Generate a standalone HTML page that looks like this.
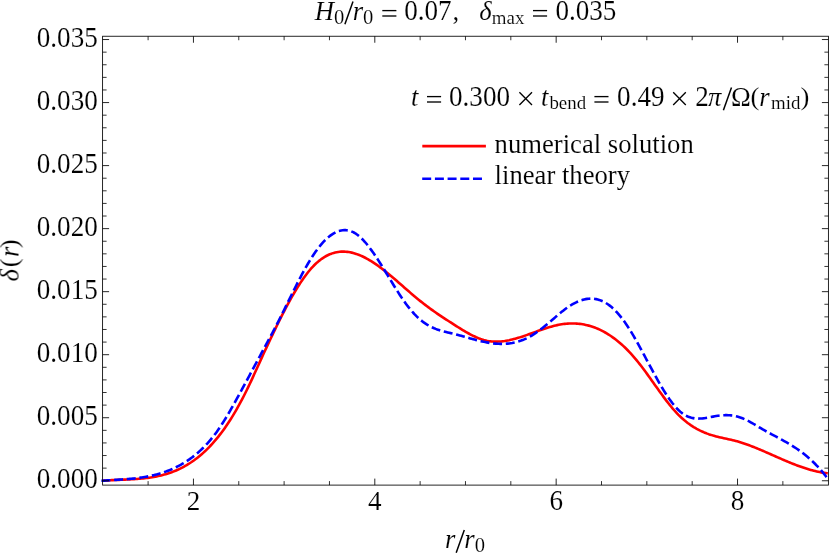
<!DOCTYPE html>
<html>
<head>
<meta charset="utf-8">
<title>plot</title>
<style>
html,body{margin:0;padding:0;background:#fff;}
body{width:830px;height:553px;overflow:hidden;}
svg{display:block;}
text{font-family:"Liberation Serif",serif;font-size:26.67px;fill:#000;stroke:#fff;stroke-width:0.12;}
.i{font-style:italic;}
.s{font-size:18.9px;}
.fr{stroke:#000;stroke-width:0.85;fill:none;}
.op{stroke:#000;stroke-width:1.35;fill:none;}
.tM{stroke:#000;stroke-width:0.85;}
.tm{stroke:#000;stroke-width:0.8;}
.red{stroke:#ff0000;stroke-width:2.6;fill:none;stroke-linejoin:round;}
.blue{stroke:#0000ff;stroke-width:2.6;fill:none;stroke-linejoin:round;stroke-linecap:square;stroke-dasharray:6.39 6.305;}
</style>
</head>
<body>
<svg width="830" height="553" viewBox="0 0 830 553">
<rect x="0" y="0" width="830" height="553" fill="#fff"/>
<!-- curves -->
<path class="red" d="M102.70,480.76 L104.20,480.64 L105.70,480.53 L107.20,480.43 L108.70,480.33 L110.20,480.25 L111.70,480.16 L113.20,480.09 L114.70,480.02 L116.20,479.95 L117.70,479.89 L119.20,479.83 L120.70,479.77 L122.20,479.70 L123.70,479.64 L125.20,479.58 L126.70,479.52 L128.20,479.45 L129.70,479.38 L131.20,479.30 L132.70,479.22 L134.20,479.13 L135.70,479.03 L137.20,478.93 L138.70,478.81 L140.20,478.69 L141.70,478.55 L143.20,478.41 L144.70,478.25 L146.20,478.07 L147.70,477.89 L149.20,477.68 L150.70,477.47 L152.20,477.23 L153.70,476.98 L155.20,476.70 L156.70,476.41 L158.20,476.10 L159.70,475.76 L161.20,475.41 L162.70,475.03 L164.20,474.62 L165.70,474.20 L167.20,473.74 L168.70,473.26 L170.20,472.75 L171.70,472.22 L173.20,471.65 L174.70,471.06 L176.20,470.43 L177.70,469.77 L179.20,469.08 L180.70,468.36 L182.20,467.60 L183.70,466.80 L185.20,465.97 L186.70,465.11 L188.20,464.20 L189.70,463.26 L191.20,462.28 L192.70,461.25 L194.20,460.19 L195.70,459.08 L197.20,457.93 L198.70,456.74 L200.20,455.50 L201.70,454.21 L203.20,452.88 L204.70,451.51 L206.20,450.08 L207.70,448.60 L209.20,447.08 L210.70,445.50 L212.20,443.87 L213.70,442.19 L215.20,440.46 L216.70,438.67 L218.20,436.83 L219.70,434.93 L221.20,432.97 L222.70,430.96 L224.20,428.89 L225.70,426.75 L227.20,424.56 L228.70,422.31 L230.20,419.99 L231.70,417.61 L233.20,415.17 L234.70,412.66 L236.20,410.09 L237.70,407.45 L239.20,404.74 L240.70,401.97 L242.20,399.13 L243.70,396.23 L245.20,393.26 L246.70,390.24 L248.20,387.15 L249.70,384.02 L251.20,380.83 L252.70,377.59 L254.20,374.33 L255.70,371.04 L257.20,367.74 L258.70,364.43 L260.20,361.13 L261.70,357.85 L263.20,354.58 L264.70,351.32 L266.20,348.09 L267.70,344.87 L269.20,341.67 L270.70,338.49 L272.20,335.33 L273.70,332.19 L275.20,329.08 L276.70,326.00 L278.20,322.94 L279.70,319.92 L281.20,316.93 L282.70,313.97 L284.20,311.06 L285.70,308.19 L287.20,305.36 L288.70,302.58 L290.20,299.86 L291.70,297.18 L293.20,294.56 L294.70,292.00 L296.20,289.50 L297.70,287.07 L299.20,284.70 L300.70,282.40 L302.20,280.17 L303.70,278.01 L305.20,275.94 L306.70,273.94 L308.20,272.03 L309.70,270.20 L311.20,268.45 L312.70,266.80 L314.20,265.24 L315.70,263.78 L317.20,262.40 L318.70,261.12 L320.20,259.93 L321.70,258.82 L323.20,257.80 L324.70,256.86 L326.20,256.00 L327.70,255.23 L329.20,254.53 L330.70,253.92 L332.20,253.38 L333.70,252.91 L335.20,252.52 L336.70,252.20 L338.20,251.95 L339.70,251.77 L341.20,251.65 L342.70,251.61 L344.20,251.62 L345.70,251.70 L347.20,251.84 L348.70,252.04 L350.20,252.30 L351.70,252.62 L353.20,252.99 L354.70,253.41 L356.20,253.89 L357.70,254.41 L359.20,254.99 L360.70,255.61 L362.20,256.28 L363.70,257.00 L365.20,257.75 L366.70,258.55 L368.20,259.39 L369.70,260.27 L371.20,261.18 L372.70,262.13 L374.20,263.11 L375.70,264.12 L377.20,265.17 L378.70,266.24 L380.20,267.35 L381.70,268.48 L383.20,269.63 L384.70,270.81 L386.20,272.00 L387.70,273.22 L389.20,274.46 L390.70,275.71 L392.20,276.98 L393.70,278.26 L395.20,279.55 L396.70,280.85 L398.20,282.16 L399.70,283.47 L401.20,284.78 L402.70,286.10 L404.20,287.41 L405.70,288.73 L407.20,290.03 L408.70,291.34 L410.20,292.63 L411.70,293.91 L413.20,295.19 L414.70,296.45 L416.20,297.70 L417.70,298.94 L419.20,300.17 L420.70,301.37 L422.20,302.57 L423.70,303.74 L425.20,304.90 L426.70,306.04 L428.20,307.16 L429.70,308.26 L431.20,309.35 L432.70,310.42 L434.20,311.48 L435.70,312.53 L437.20,313.56 L438.70,314.58 L440.20,315.60 L441.70,316.60 L443.20,317.59 L444.70,318.58 L446.20,319.56 L447.70,320.53 L449.20,321.50 L450.70,322.46 L452.20,323.42 L453.70,324.38 L455.20,325.34 L456.70,326.29 L458.20,327.24 L459.70,328.18 L461.20,329.11 L462.70,330.03 L464.20,330.92 L465.70,331.81 L467.20,332.66 L468.70,333.50 L470.20,334.31 L471.70,335.09 L473.20,335.83 L474.70,336.54 L476.20,337.22 L477.70,337.85 L479.20,338.45 L480.70,338.99 L482.20,339.49 L483.70,339.94 L485.20,340.33 L486.70,340.67 L488.20,340.96 L489.70,341.19 L491.20,341.37 L492.70,341.50 L494.20,341.58 L495.70,341.62 L497.20,341.61 L498.70,341.56 L500.20,341.47 L501.70,341.34 L503.20,341.17 L504.70,340.97 L506.20,340.73 L507.70,340.46 L509.20,340.17 L510.70,339.84 L512.20,339.49 L513.70,339.11 L515.20,338.70 L516.70,338.28 L518.20,337.84 L519.70,337.38 L521.20,336.90 L522.70,336.41 L524.20,335.90 L525.70,335.39 L527.20,334.86 L528.70,334.33 L530.20,333.79 L531.70,333.25 L533.20,332.71 L534.70,332.16 L536.20,331.62 L537.70,331.08 L539.20,330.54 L540.70,330.02 L542.20,329.49 L543.70,328.98 L545.20,328.49 L546.70,328.00 L548.20,327.53 L549.70,327.08 L551.20,326.65 L552.70,326.23 L554.20,325.84 L555.70,325.48 L557.20,325.13 L558.70,324.82 L560.20,324.54 L561.70,324.29 L563.20,324.06 L564.70,323.88 L566.20,323.72 L567.70,323.60 L569.20,323.52 L570.70,323.46 L572.20,323.45 L573.70,323.46 L575.20,323.51 L576.70,323.60 L578.20,323.73 L579.70,323.89 L581.20,324.08 L582.70,324.32 L584.20,324.59 L585.70,324.90 L587.20,325.24 L588.70,325.63 L590.20,326.05 L591.70,326.52 L593.20,327.02 L594.70,327.56 L596.20,328.15 L597.70,328.77 L599.20,329.43 L600.70,330.14 L602.20,330.89 L603.70,331.68 L605.20,332.51 L606.70,333.38 L608.20,334.30 L609.70,335.26 L611.20,336.26 L612.70,337.31 L614.20,338.40 L615.70,339.54 L617.20,340.72 L618.70,341.95 L620.20,343.23 L621.70,344.55 L623.20,345.91 L624.70,347.32 L626.20,348.78 L627.70,350.29 L629.20,351.85 L630.70,353.45 L632.20,355.10 L633.70,356.81 L635.20,358.56 L636.70,360.36 L638.20,362.21 L639.70,364.10 L641.20,366.04 L642.70,368.02 L644.20,370.03 L645.70,372.07 L647.20,374.13 L648.70,376.21 L650.20,378.31 L651.70,380.42 L653.20,382.53 L654.70,384.65 L656.20,386.76 L657.70,388.87 L659.20,390.97 L660.70,393.04 L662.20,395.10 L663.70,397.13 L665.20,399.14 L666.70,401.11 L668.20,403.03 L669.70,404.92 L671.20,406.76 L672.70,408.55 L674.20,410.27 L675.70,411.94 L677.20,413.54 L678.70,415.08 L680.20,416.55 L681.70,417.95 L683.20,419.29 L684.70,420.57 L686.20,421.79 L687.70,422.95 L689.20,424.05 L690.70,425.11 L692.20,426.10 L693.70,427.05 L695.20,427.95 L696.70,428.81 L698.20,429.61 L699.70,430.38 L701.20,431.10 L702.70,431.78 L704.20,432.43 L705.70,433.03 L707.20,433.61 L708.70,434.15 L710.20,434.65 L711.70,435.13 L713.20,435.59 L714.70,436.01 L716.20,436.41 L717.70,436.80 L719.20,437.16 L720.70,437.51 L722.20,437.85 L723.70,438.18 L725.20,438.50 L726.70,438.83 L728.20,439.16 L729.70,439.49 L731.20,439.83 L732.70,440.18 L734.20,440.55 L735.70,440.93 L737.20,441.34 L738.70,441.77 L740.20,442.21 L741.70,442.68 L743.20,443.17 L744.70,443.68 L746.20,444.20 L747.70,444.74 L749.20,445.29 L750.70,445.86 L752.20,446.44 L753.70,447.03 L755.20,447.64 L756.70,448.25 L758.20,448.87 L759.70,449.50 L761.20,450.14 L762.70,450.78 L764.20,451.43 L765.70,452.08 L767.20,452.74 L768.70,453.39 L770.20,454.05 L771.70,454.72 L773.20,455.38 L774.70,456.04 L776.20,456.70 L777.70,457.36 L779.20,458.01 L780.70,458.67 L782.20,459.32 L783.70,459.96 L785.20,460.60 L786.70,461.23 L788.20,461.86 L789.70,462.48 L791.20,463.09 L792.70,463.69 L794.20,464.28 L795.70,464.86 L797.20,465.42 L798.70,465.98 L800.20,466.52 L801.70,467.05 L803.20,467.57 L804.70,468.07 L806.20,468.55 L807.70,469.02 L809.20,469.47 L810.70,469.90 L812.20,470.32 L813.70,470.71 L815.20,471.09 L816.70,471.44 L818.20,471.77 L819.70,472.08 L821.20,472.36 L822.70,472.62 L824.20,472.86 L825.70,473.07 L827.20,473.25 L827.80,473.32"/>
<path class="blue" d="M102.70,480.68 L104.20,480.58 L105.70,480.48 L107.20,480.39 L108.70,480.29 L110.20,480.20 L111.70,480.12 L113.20,480.03 L114.70,479.94 L116.20,479.85 L117.70,479.76 L119.20,479.67 L120.70,479.57 L122.20,479.47 L123.70,479.37 L125.20,479.26 L126.70,479.14 L128.20,479.02 L129.70,478.89 L131.20,478.75 L132.70,478.61 L134.20,478.45 L135.70,478.29 L137.20,478.11 L138.70,477.92 L140.20,477.72 L141.70,477.50 L143.20,477.27 L144.70,477.03 L146.20,476.77 L147.70,476.49 L149.20,476.20 L150.70,475.88 L152.20,475.55 L153.70,475.21 L155.20,474.84 L156.70,474.45 L158.20,474.04 L159.70,473.60 L161.20,473.14 L162.70,472.66 L164.20,472.16 L165.70,471.63 L167.20,471.07 L168.70,470.49 L170.20,469.88 L171.70,469.24 L173.20,468.58 L174.70,467.88 L176.20,467.15 L177.70,466.39 L179.20,465.60 L180.70,464.78 L182.20,463.92 L183.70,463.03 L185.20,462.11 L186.70,461.15 L188.20,460.15 L189.70,459.12 L191.20,458.04 L192.70,456.92 L194.20,455.76 L195.70,454.56 L197.20,453.31 L198.70,452.00 L200.20,450.65 L201.70,449.25 L203.20,447.79 L204.70,446.27 L206.20,444.70 L207.70,443.07 L209.20,441.37 L210.70,439.61 L212.20,437.79 L213.70,435.90 L215.20,433.94 L216.70,431.91 L218.20,429.81 L219.70,427.64 L221.20,425.39 L222.70,423.07 L224.20,420.68 L225.70,418.24 L227.20,415.74 L228.70,413.20 L230.20,410.61 L231.70,407.98 L233.20,405.32 L234.70,402.63 L236.20,399.91 L237.70,397.18 L239.20,394.44 L240.70,391.68 L242.20,388.92 L243.70,386.15 L245.20,383.38 L246.70,380.60 L248.20,377.82 L249.70,375.03 L251.20,372.24 L252.70,369.45 L254.20,366.66 L255.70,363.87 L257.20,361.08 L258.70,358.30 L260.20,355.52 L261.70,352.74 L263.20,349.96 L264.70,347.19 L266.20,344.42 L267.70,341.65 L269.20,338.86 L270.70,336.07 L272.20,333.25 L273.70,330.42 L275.20,327.55 L276.70,324.66 L278.20,321.73 L279.70,318.77 L281.20,315.78 L282.70,312.76 L284.20,309.73 L285.70,306.69 L287.20,303.64 L288.70,300.59 L290.20,297.54 L291.70,294.50 L293.20,291.48 L294.70,288.48 L296.20,285.50 L297.70,282.55 L299.20,279.64 L300.70,276.78 L302.20,273.96 L303.70,271.19 L305.20,268.48 L306.70,265.84 L308.20,263.26 L309.70,260.76 L311.20,258.33 L312.70,255.99 L314.20,253.75 L315.70,251.59 L317.20,249.52 L318.70,247.55 L320.20,245.67 L321.70,243.89 L323.20,242.22 L324.70,240.64 L326.20,239.16 L327.70,237.79 L329.20,236.53 L330.70,235.37 L332.20,234.33 L333.70,233.39 L335.20,232.57 L336.70,231.86 L338.20,231.27 L339.70,230.80 L341.20,230.45 L342.70,230.22 L344.20,230.12 L345.70,230.14 L347.20,230.29 L348.70,230.57 L350.20,230.97 L351.70,231.51 L353.20,232.19 L354.70,233.00 L356.20,233.95 L357.70,235.03 L359.20,236.25 L360.70,237.58 L362.20,239.04 L363.70,240.60 L365.20,242.27 L366.70,244.03 L368.20,245.89 L369.70,247.83 L371.20,249.85 L372.70,251.94 L374.20,254.09 L375.70,256.31 L377.20,258.58 L378.70,260.90 L380.20,263.25 L381.70,265.64 L383.20,268.06 L384.70,270.50 L386.20,272.96 L387.70,275.42 L389.20,277.88 L390.70,280.34 L392.20,282.79 L393.70,285.23 L395.20,287.64 L396.70,290.02 L398.20,292.37 L399.70,294.68 L401.20,296.94 L402.70,299.16 L404.20,301.31 L405.70,303.41 L407.20,305.43 L408.70,307.39 L410.20,309.26 L411.70,311.05 L413.20,312.75 L414.70,314.37 L416.20,315.90 L417.70,317.35 L419.20,318.72 L420.70,320.01 L422.20,321.22 L423.70,322.35 L425.20,323.41 L426.70,324.39 L428.20,325.29 L429.70,326.13 L431.20,326.90 L432.70,327.61 L434.20,328.26 L435.70,328.86 L437.20,329.42 L438.70,329.93 L440.20,330.41 L441.70,330.86 L443.20,331.27 L444.70,331.67 L446.20,332.05 L447.70,332.42 L449.20,332.78 L450.70,333.13 L452.20,333.49 L453.70,333.85 L455.20,334.23 L456.70,334.62 L458.20,335.02 L459.70,335.42 L461.20,335.84 L462.70,336.26 L464.20,336.68 L465.70,337.10 L467.20,337.53 L468.70,337.96 L470.20,338.38 L471.70,338.80 L473.20,339.21 L474.70,339.61 L476.20,340.01 L477.70,340.40 L479.20,340.77 L480.70,341.13 L482.20,341.47 L483.70,341.80 L485.20,342.10 L486.70,342.39 L488.20,342.66 L489.70,342.90 L491.20,343.12 L492.70,343.31 L494.20,343.47 L495.70,343.61 L497.20,343.72 L498.70,343.80 L500.20,343.85 L501.70,343.87 L503.20,343.85 L504.70,343.80 L506.20,343.71 L507.70,343.58 L509.20,343.42 L510.70,343.21 L512.20,342.97 L513.70,342.68 L515.20,342.35 L516.70,341.98 L518.20,341.56 L519.70,341.10 L521.20,340.58 L522.70,340.02 L524.20,339.41 L525.70,338.74 L527.20,338.02 L528.70,337.25 L530.20,336.43 L531.70,335.55 L533.20,334.62 L534.70,333.65 L536.20,332.63 L537.70,331.58 L539.20,330.48 L540.70,329.35 L542.20,328.19 L543.70,327.01 L545.20,325.79 L546.70,324.56 L548.20,323.30 L549.70,322.03 L551.20,320.75 L552.70,319.45 L554.20,318.16 L555.70,316.86 L557.20,315.58 L558.70,314.31 L560.20,313.06 L561.70,311.84 L563.20,310.65 L564.70,309.50 L566.20,308.39 L567.70,307.33 L569.20,306.32 L570.70,305.37 L572.20,304.46 L573.70,303.62 L575.20,302.83 L576.70,302.10 L578.20,301.44 L579.70,300.84 L581.20,300.31 L582.70,299.85 L584.20,299.45 L585.70,299.13 L587.20,298.89 L588.70,298.72 L590.20,298.64 L591.70,298.63 L593.20,298.71 L594.70,298.87 L596.20,299.12 L597.70,299.46 L599.20,299.89 L600.70,300.42 L602.20,301.04 L603.70,301.75 L605.20,302.57 L606.70,303.49 L608.20,304.51 L609.70,305.62 L611.20,306.83 L612.70,308.14 L614.20,309.54 L615.70,311.05 L617.20,312.64 L618.70,314.33 L620.20,316.12 L621.70,318.00 L623.20,319.98 L624.70,322.05 L626.20,324.21 L627.70,326.46 L629.20,328.79 L630.70,331.20 L632.20,333.67 L633.70,336.21 L635.20,338.81 L636.70,341.45 L638.20,344.14 L639.70,346.86 L641.20,349.62 L642.70,352.40 L644.20,355.19 L645.70,358.00 L647.20,360.81 L648.70,363.63 L650.20,366.43 L651.70,369.22 L653.20,372.00 L654.70,374.74 L656.20,377.46 L657.70,380.14 L659.20,382.77 L660.70,385.36 L662.20,387.89 L663.70,390.36 L665.20,392.75 L666.70,395.08 L668.20,397.32 L669.70,399.48 L671.20,401.54 L672.70,403.51 L674.20,405.37 L675.70,407.12 L677.20,408.75 L678.70,410.25 L680.20,411.63 L681.70,412.87 L683.20,413.98 L684.70,414.94 L686.20,415.77 L687.70,416.48 L689.20,417.07 L690.70,417.55 L692.20,417.93 L693.70,418.22 L695.20,418.41 L696.70,418.53 L698.20,418.58 L699.70,418.56 L701.20,418.48 L702.70,418.35 L704.20,418.17 L705.70,417.96 L707.20,417.72 L708.70,417.46 L710.20,417.19 L711.70,416.90 L713.20,416.62 L714.70,416.34 L716.20,416.08 L717.70,415.83 L719.20,415.62 L720.70,415.45 L722.20,415.31 L723.70,415.22 L725.20,415.17 L726.70,415.16 L728.20,415.21 L729.70,415.30 L731.20,415.44 L732.70,415.63 L734.20,415.88 L735.70,416.18 L737.20,416.54 L738.70,416.96 L740.20,417.43 L741.70,417.97 L743.20,418.57 L744.70,419.22 L746.20,419.92 L747.70,420.67 L749.20,421.46 L750.70,422.28 L752.20,423.13 L753.70,424.00 L755.20,424.88 L756.70,425.77 L758.20,426.67 L759.70,427.56 L761.20,428.44 L762.70,429.31 L764.20,430.17 L765.70,431.01 L767.20,431.84 L768.70,432.66 L770.20,433.47 L771.70,434.28 L773.20,435.09 L774.70,435.89 L776.20,436.69 L777.70,437.49 L779.20,438.30 L780.70,439.12 L782.20,439.94 L783.70,440.77 L785.20,441.62 L786.70,442.48 L788.20,443.35 L789.70,444.24 L791.20,445.15 L792.70,446.09 L794.20,447.04 L795.70,448.02 L797.20,449.03 L798.70,450.07 L800.20,451.14 L801.70,452.24 L803.20,453.38 L804.70,454.56 L806.20,455.77 L807.70,457.03 L809.20,458.32 L810.70,459.67 L812.20,461.06 L813.70,462.50 L815.20,463.98 L816.70,465.53 L818.20,467.12 L819.70,468.77 L821.20,470.48 L822.70,472.25 L824.20,474.09 L825.70,475.98 L825.90,476.24"/>
<!-- frame -->
<rect class="fr" x="102.6" y="36.24" width="725.80" height="448.86"/>
<line class="tM" x1="102.60" y1="480.75" x2="109.10" y2="480.75"/>
<line class="tM" x1="828.40" y1="480.75" x2="821.90" y2="480.75"/>
<line class="tm" x1="102.60" y1="468.14" x2="106.60" y2="468.14"/>
<line class="tm" x1="828.40" y1="468.14" x2="824.40" y2="468.14"/>
<line class="tm" x1="102.60" y1="455.54" x2="106.60" y2="455.54"/>
<line class="tm" x1="828.40" y1="455.54" x2="824.40" y2="455.54"/>
<line class="tm" x1="102.60" y1="442.93" x2="106.60" y2="442.93"/>
<line class="tm" x1="828.40" y1="442.93" x2="824.40" y2="442.93"/>
<line class="tm" x1="102.60" y1="430.33" x2="106.60" y2="430.33"/>
<line class="tm" x1="828.40" y1="430.33" x2="824.40" y2="430.33"/>
<line class="tM" x1="102.60" y1="417.72" x2="109.10" y2="417.72"/>
<line class="tM" x1="828.40" y1="417.72" x2="821.90" y2="417.72"/>
<line class="tm" x1="102.60" y1="405.11" x2="106.60" y2="405.11"/>
<line class="tm" x1="828.40" y1="405.11" x2="824.40" y2="405.11"/>
<line class="tm" x1="102.60" y1="392.51" x2="106.60" y2="392.51"/>
<line class="tm" x1="828.40" y1="392.51" x2="824.40" y2="392.51"/>
<line class="tm" x1="102.60" y1="379.90" x2="106.60" y2="379.90"/>
<line class="tm" x1="828.40" y1="379.90" x2="824.40" y2="379.90"/>
<line class="tm" x1="102.60" y1="367.30" x2="106.60" y2="367.30"/>
<line class="tm" x1="828.40" y1="367.30" x2="824.40" y2="367.30"/>
<line class="tM" x1="102.60" y1="354.69" x2="109.10" y2="354.69"/>
<line class="tM" x1="828.40" y1="354.69" x2="821.90" y2="354.69"/>
<line class="tm" x1="102.60" y1="342.08" x2="106.60" y2="342.08"/>
<line class="tm" x1="828.40" y1="342.08" x2="824.40" y2="342.08"/>
<line class="tm" x1="102.60" y1="329.48" x2="106.60" y2="329.48"/>
<line class="tm" x1="828.40" y1="329.48" x2="824.40" y2="329.48"/>
<line class="tm" x1="102.60" y1="316.87" x2="106.60" y2="316.87"/>
<line class="tm" x1="828.40" y1="316.87" x2="824.40" y2="316.87"/>
<line class="tm" x1="102.60" y1="304.27" x2="106.60" y2="304.27"/>
<line class="tm" x1="828.40" y1="304.27" x2="824.40" y2="304.27"/>
<line class="tM" x1="102.60" y1="291.66" x2="109.10" y2="291.66"/>
<line class="tM" x1="828.40" y1="291.66" x2="821.90" y2="291.66"/>
<line class="tm" x1="102.60" y1="279.05" x2="106.60" y2="279.05"/>
<line class="tm" x1="828.40" y1="279.05" x2="824.40" y2="279.05"/>
<line class="tm" x1="102.60" y1="266.45" x2="106.60" y2="266.45"/>
<line class="tm" x1="828.40" y1="266.45" x2="824.40" y2="266.45"/>
<line class="tm" x1="102.60" y1="253.84" x2="106.60" y2="253.84"/>
<line class="tm" x1="828.40" y1="253.84" x2="824.40" y2="253.84"/>
<line class="tm" x1="102.60" y1="241.24" x2="106.60" y2="241.24"/>
<line class="tm" x1="828.40" y1="241.24" x2="824.40" y2="241.24"/>
<line class="tM" x1="102.60" y1="228.63" x2="109.10" y2="228.63"/>
<line class="tM" x1="828.40" y1="228.63" x2="821.90" y2="228.63"/>
<line class="tm" x1="102.60" y1="216.02" x2="106.60" y2="216.02"/>
<line class="tm" x1="828.40" y1="216.02" x2="824.40" y2="216.02"/>
<line class="tm" x1="102.60" y1="203.42" x2="106.60" y2="203.42"/>
<line class="tm" x1="828.40" y1="203.42" x2="824.40" y2="203.42"/>
<line class="tm" x1="102.60" y1="190.81" x2="106.60" y2="190.81"/>
<line class="tm" x1="828.40" y1="190.81" x2="824.40" y2="190.81"/>
<line class="tm" x1="102.60" y1="178.21" x2="106.60" y2="178.21"/>
<line class="tm" x1="828.40" y1="178.21" x2="824.40" y2="178.21"/>
<line class="tM" x1="102.60" y1="165.60" x2="109.10" y2="165.60"/>
<line class="tM" x1="828.40" y1="165.60" x2="821.90" y2="165.60"/>
<line class="tm" x1="102.60" y1="152.99" x2="106.60" y2="152.99"/>
<line class="tm" x1="828.40" y1="152.99" x2="824.40" y2="152.99"/>
<line class="tm" x1="102.60" y1="140.39" x2="106.60" y2="140.39"/>
<line class="tm" x1="828.40" y1="140.39" x2="824.40" y2="140.39"/>
<line class="tm" x1="102.60" y1="127.78" x2="106.60" y2="127.78"/>
<line class="tm" x1="828.40" y1="127.78" x2="824.40" y2="127.78"/>
<line class="tm" x1="102.60" y1="115.18" x2="106.60" y2="115.18"/>
<line class="tm" x1="828.40" y1="115.18" x2="824.40" y2="115.18"/>
<line class="tM" x1="102.60" y1="102.57" x2="109.10" y2="102.57"/>
<line class="tM" x1="828.40" y1="102.57" x2="821.90" y2="102.57"/>
<line class="tm" x1="102.60" y1="89.96" x2="106.60" y2="89.96"/>
<line class="tm" x1="828.40" y1="89.96" x2="824.40" y2="89.96"/>
<line class="tm" x1="102.60" y1="77.36" x2="106.60" y2="77.36"/>
<line class="tm" x1="828.40" y1="77.36" x2="824.40" y2="77.36"/>
<line class="tm" x1="102.60" y1="64.75" x2="106.60" y2="64.75"/>
<line class="tm" x1="828.40" y1="64.75" x2="824.40" y2="64.75"/>
<line class="tm" x1="102.60" y1="52.15" x2="106.60" y2="52.15"/>
<line class="tm" x1="828.40" y1="52.15" x2="824.40" y2="52.15"/>
<line class="tM" x1="102.60" y1="39.54" x2="109.10" y2="39.54"/>
<line class="tM" x1="828.40" y1="39.54" x2="821.90" y2="39.54"/>
<line class="tm" x1="148.10" y1="485.10" x2="148.10" y2="481.10"/>
<line class="tm" x1="148.10" y1="36.24" x2="148.10" y2="40.24"/>
<line class="tM" x1="193.44" y1="485.10" x2="193.44" y2="478.60"/>
<line class="tM" x1="193.44" y1="36.24" x2="193.44" y2="42.74"/>
<line class="tm" x1="238.78" y1="485.10" x2="238.78" y2="481.10"/>
<line class="tm" x1="238.78" y1="36.24" x2="238.78" y2="40.24"/>
<line class="tm" x1="284.12" y1="485.10" x2="284.12" y2="481.10"/>
<line class="tm" x1="284.12" y1="36.24" x2="284.12" y2="40.24"/>
<line class="tm" x1="329.46" y1="485.10" x2="329.46" y2="481.10"/>
<line class="tm" x1="329.46" y1="36.24" x2="329.46" y2="40.24"/>
<line class="tM" x1="374.80" y1="485.10" x2="374.80" y2="478.60"/>
<line class="tM" x1="374.80" y1="36.24" x2="374.80" y2="42.74"/>
<line class="tm" x1="420.14" y1="485.10" x2="420.14" y2="481.10"/>
<line class="tm" x1="420.14" y1="36.24" x2="420.14" y2="40.24"/>
<line class="tm" x1="465.48" y1="485.10" x2="465.48" y2="481.10"/>
<line class="tm" x1="465.48" y1="36.24" x2="465.48" y2="40.24"/>
<line class="tm" x1="510.82" y1="485.10" x2="510.82" y2="481.10"/>
<line class="tm" x1="510.82" y1="36.24" x2="510.82" y2="40.24"/>
<line class="tM" x1="556.16" y1="485.10" x2="556.16" y2="478.60"/>
<line class="tM" x1="556.16" y1="36.24" x2="556.16" y2="42.74"/>
<line class="tm" x1="601.50" y1="485.10" x2="601.50" y2="481.10"/>
<line class="tm" x1="601.50" y1="36.24" x2="601.50" y2="40.24"/>
<line class="tm" x1="646.84" y1="485.10" x2="646.84" y2="481.10"/>
<line class="tm" x1="646.84" y1="36.24" x2="646.84" y2="40.24"/>
<line class="tm" x1="692.18" y1="485.10" x2="692.18" y2="481.10"/>
<line class="tm" x1="692.18" y1="36.24" x2="692.18" y2="40.24"/>
<line class="tM" x1="737.52" y1="485.10" x2="737.52" y2="478.60"/>
<line class="tM" x1="737.52" y1="36.24" x2="737.52" y2="42.74"/>
<line class="tm" x1="782.86" y1="485.10" x2="782.86" y2="481.10"/>
<line class="tm" x1="782.86" y1="36.24" x2="782.86" y2="40.24"/>
<g opacity="0.999">
<!-- tick labels -->
<text text-anchor="end" transform="translate(97.80,487.75) scale(1.017,1.08)">0.000</text>
<text text-anchor="end" transform="translate(97.80,424.72) scale(1.017,1.08)">0.005</text>
<text text-anchor="end" transform="translate(97.80,361.69) scale(1.017,1.08)">0.010</text>
<text text-anchor="end" transform="translate(97.80,298.66) scale(1.017,1.08)">0.015</text>
<text text-anchor="end" transform="translate(97.80,235.63) scale(1.017,1.08)">0.020</text>
<text text-anchor="end" transform="translate(97.80,172.60) scale(1.017,1.08)">0.025</text>
<text text-anchor="end" transform="translate(97.80,109.57) scale(1.017,1.08)">0.030</text>
<text text-anchor="end" transform="translate(97.80,46.54) scale(1.017,1.08)">0.035</text>
<text text-anchor="middle" transform="translate(193.44,509.80) scale(1.017,1.02)">2</text>
<text text-anchor="middle" transform="translate(374.80,509.80) scale(1.017,1.02)">4</text>
<text text-anchor="middle" transform="translate(556.16,509.80) scale(1.017,1.08)">6</text>
<text text-anchor="middle" transform="translate(737.52,509.80) scale(1.017,1.08)">8</text>
<!-- title -->
<text class="i" x="314.70" y="19.90">H</text>
<text class="s" transform="translate(334.10,23.60) scale(1.09,1.08)">0</text>
<line class="op" style="stroke-width:1.5" x1="344.90" y1="24.30" x2="353.00" y2="1.60"/>
<text class="i" x="352.80" y="19.90">r</text>
<text class="s" transform="translate(363.00,23.60) scale(1.09,1.08)">0</text>
<line class="op" x1="382.30" y1="10.60" x2="396.40" y2="10.60"/>
<line class="op" x1="382.30" y1="16.00" x2="396.40" y2="16.00"/>
<text transform="translate(404.20,19.90) scale(1.017,1.08)">0.07</text>
<text x="452.40" y="19.90">,</text>
<text class="i" x="479.30" y="19.90">δ</text>
<text class="s" x="491.80" y="23.60">max</text>
<line class="op" x1="533.00" y1="10.60" x2="547.10" y2="10.60"/>
<line class="op" x1="533.00" y1="16.00" x2="547.10" y2="16.00"/>
<text transform="translate(555.40,19.90) scale(1.017,1.08)">0.035</text>
<!-- annotation -->
<text class="i" x="411.10" y="105.90">t</text>
<line class="op" x1="427.00" y1="96.60" x2="441.10" y2="96.60"/>
<line class="op" x1="427.00" y1="102.00" x2="441.10" y2="102.00"/>
<text transform="translate(449.00,105.90) scale(1.017,1.08)">0.300</text>
<path class="op" d="M519.40,92.30 L532.00,104.90 M519.40,104.90 L532.00,92.30"/>
<text class="i" x="540.90" y="105.90">t</text>
<text class="s" x="549.40" y="108.90">bend</text>
<line class="op" x1="594.40" y1="96.60" x2="608.50" y2="96.60"/>
<line class="op" x1="594.40" y1="102.00" x2="608.50" y2="102.00"/>
<text transform="translate(617.10,105.90) scale(1.017,1.08)">0.49</text>
<path class="op" d="M673.20,92.30 L685.80,104.90 M673.20,104.90 L685.80,92.30"/>
<text transform="translate(695.20,105.90) scale(1.017,1.08)">2</text>
<text class="i" x="708.00" y="105.90">π</text>
<line class="op" style="stroke-width:1.5" x1="723.40" y1="110.30" x2="731.50" y2="87.60"/>
<text x="731.00" y="105.90">Ω</text>
<text transform="translate(750.60,104.60) scale(1,0.908)">(</text>
<text class="i" x="759.30" y="105.90">r</text>
<text class="s" x="771.00" y="108.90">mid</text>
<text transform="translate(800.60,104.60) scale(1,0.908)">)</text>
<!-- legend -->
<line x1="422.3" y1="146.1" x2="485.9" y2="146.1" stroke="#ff0000" stroke-width="2.6"/>
<line x1="423.5" y1="178.7" x2="484.6" y2="178.7" stroke="#0000ff" stroke-width="2.6" stroke-linecap="square" stroke-dasharray="6.39 6.305"/>
<text x="494.6" y="152.7">numerical solution</text>
<text x="494.6" y="184.4">linear theory</text>
<!-- axis labels -->
<text class="i" x="444.90" y="548.40">r</text>
<line class="op" style="stroke-width:1.5" x1="456.20" y1="552.80" x2="464.30" y2="530.10"/>
<text class="i" x="464.20" y="548.40">r</text>
<text class="s" transform="translate(474.80,552.40) scale(1.09,1.08)">0</text>
<g transform="translate(18.5,0) rotate(-90)">
<text class="i" x="-281.5" y="0">δ</text><text transform="translate(-267.3,-1.3) scale(1,0.908)">(</text><text class="i" x="-257.1" y="0">r</text><text transform="translate(-248.3,-1.3) scale(1,0.908)">)</text>
</g>
</g>
</svg>
</body>
</html>
